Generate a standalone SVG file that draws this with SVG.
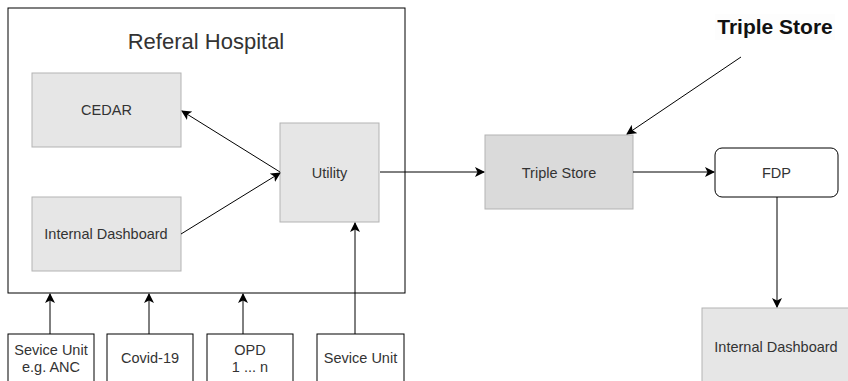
<svg xmlns="http://www.w3.org/2000/svg" width="848" height="381" viewBox="0 0 848 381">
<defs>
<marker id="ah" viewBox="0 0 10 10" refX="9" refY="5" markerWidth="10" markerHeight="10" markerUnits="userSpaceOnUse" orient="auto">
<path d="M0,0 L10,5 L0,10 L2.5,5 Z" fill="#000"/>
</marker>
<style>
.box{fill:#e6e6e6;stroke:#b3b3b3;stroke-width:1}
.wbox{fill:#fff;stroke:#000;stroke-width:1}
.t{font-family:"Liberation Sans",Arial,sans-serif;font-size:14.5px;fill:#333;text-anchor:middle}
.c{fill:none;stroke:#000;stroke-width:1;marker-end:url(#ah)}
</style>
</defs>
<rect width="848" height="381" fill="#fff"/>
<g id="hospital">
<rect x="8" y="8" width="397" height="285" fill="#fff" stroke="#000"/>
<text x="206" y="49" style="font-family:'Liberation Sans',Arial,sans-serif;font-size:22px;fill:#333;text-anchor:middle">Referal Hospital</text>
</g>
<g id="cedar">
<rect class="box" x="32" y="73" width="149" height="74"/>
<text class="t" x="106.5" y="115">CEDAR</text>
</g>
<g id="internal-dashboard">
<rect class="box" x="32" y="197" width="149" height="74"/>
<text class="t" x="106" y="239">Internal Dashboard</text>
</g>
<g id="utility">
<rect class="box" x="280" y="123" width="99" height="99"/>
<text class="t" x="329.5" y="178">Utility</text>
</g>
<g id="triple-store">
<rect x="485" y="135" width="148" height="74" fill="#dadada" stroke="#b3b3b3"/>
<text class="t" x="559" y="178">Triple Store</text>
</g>
<g id="fdp">
<rect class="wbox" x="715" y="148" width="123" height="49" rx="7"/>
<text class="t" x="776.5" y="178">FDP</text>
</g>
<g id="internal-dashboard-2">
<rect class="box" x="702" y="308" width="150" height="80"/>
<text class="t" x="776" y="352">Internal Dashboard</text>
</g>
<g id="triple-store-label">
<rect x="715" y="14" width="120" height="26" fill="#fdfdfd"/>
<text x="775" y="34" style="font-family:'Liberation Sans',Arial,sans-serif;font-size:21px;font-weight:bold;fill:#111;text-anchor:middle">Triple Store</text>
</g>
<g id="unit-anc">
<rect class="wbox" x="8" y="334" width="86" height="60"/>
<text class="t" x="51" y="355">Sevice Unit</text>
<text class="t" x="51" y="372">e.g. ANC</text>
</g>
<g id="covid">
<rect class="wbox" x="107" y="334" width="86" height="60"/>
<text class="t" x="150" y="363">Covid-19</text>
</g>
<g id="opd">
<rect class="wbox" x="207" y="334" width="86" height="60"/>
<text class="t" x="250" y="355">OPD</text>
<text class="t" x="250" y="372">1 ... n</text>
</g>
<g id="unit">
<rect class="wbox" x="317" y="334" width="87" height="60"/>
<text class="t" x="360.5" y="363">Sevice Unit</text>
</g>
<g id="connectors">
<line class="c" x1="280" y1="172" x2="182" y2="111"/>
<line class="c" x1="181" y1="234" x2="280" y2="173"/>
<line class="c" x1="355" y1="334" x2="355" y2="223"/>
<line class="c" x1="50" y1="334" x2="50" y2="294"/>
<line class="c" x1="149" y1="334" x2="149" y2="294"/>
<line class="c" x1="243" y1="334" x2="243" y2="294"/>
<line class="c" x1="380" y1="172" x2="484" y2="172"/>
<line class="c" x1="633" y1="172" x2="714" y2="172"/>
<line class="c" x1="777" y1="197" x2="777" y2="307"/>
<line class="c" x1="741" y1="57" x2="627" y2="134"/>
</g>
</svg>
